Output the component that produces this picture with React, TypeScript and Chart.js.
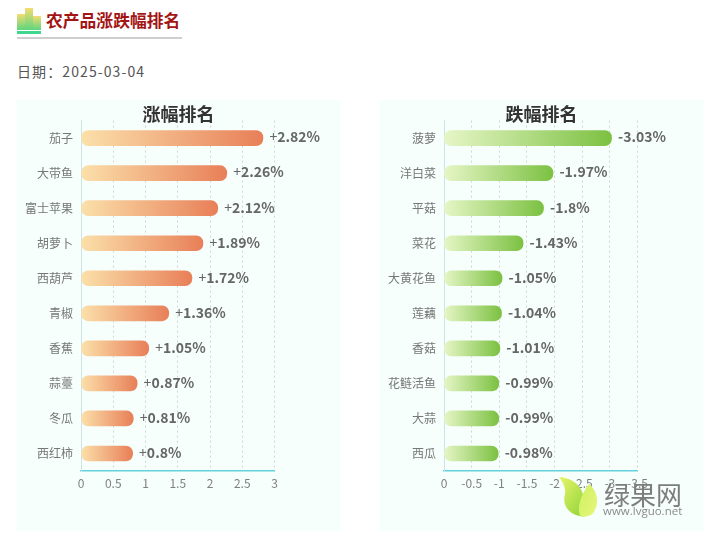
import React, { useEffect, useRef } from "react";
import { Chart, registerables } from "chart.js";

Chart.register(...registerables);

const FONT = '"Noto Sans CJK SC", "Noto Sans", sans-serif';

const riseCategories = ["茄子", "大带鱼", "富士苹果", "胡萝卜", "西葫芦", "青椒", "香蕉", "蒜薹", "冬瓜", "西红柿"];
const riseValues = [2.82, 2.26, 2.12, 1.89, 1.72, 1.36, 1.05, 0.87, 0.81, 0.8];
const riseTicks = [0, 0.5, 1, 1.5, 2, 2.5, 3];

const fallCategories = ["菠萝", "洋白菜", "平菇", "菜花", "大黄花鱼", "莲藕", "香菇", "花鲢活鱼", "大蒜", "西瓜"];
const fallValues = [-3.03, -1.97, -1.8, -1.43, -1.05, -1.04, -1.01, -0.99, -0.99, -0.98];
const fallTicks = [0, -0.5, -1, -1.5, -2, -2.5, -3, -3.5];

type PanelProps = {
  title: string;
  categories: string[];
  values: number[];
  ticks: number[];
  colors: [string, string];
  left: number;
  sign: string;
};

function RankChart({ title, categories, values, ticks, colors, left, sign }: PanelProps) {
  const ref = useRef<HTMLCanvasElement>(null);

  useEffect(() => {
    const negative = values[0] < 0;
    const labelPlugin = {
      id: "valueLabels",
      afterDatasetsDraw(chart: any) {
        const { ctx } = chart;
        const meta = chart.getDatasetMeta(0);
        ctx.save();
        ctx.textBaseline = "middle";
        ctx.textAlign = "left";
        ctx.fillStyle = "#666666";
        meta.data.forEach((bar: any, i: number) => {
          let x = bar.x + 6.5;
          if (sign) {
            ctx.font = `14px ${FONT}`;
            ctx.fillText(sign, x, bar.y - 1);
            x += ctx.measureText(sign).width;
          }
          ctx.font = `bold 14px ${FONT}`;
          ctx.fillText(`${values[i]}%`, x, bar.y - 1);
        });
        ctx.restore();
      },
    };

    const chart = new Chart(ref.current!, {
      type: "bar",
      data: {
        labels: categories,
        datasets: [
          {
            data: values,
            barThickness: 15,
            borderRadius: 7,
            borderSkipped: false,
            backgroundColor: (c: any) => {
              const x = c.chart.scales?.x;
              const v = c.parsed?.x ?? c.raw;
              const from = x?.getPixelForValue(0);
              const to = x?.getPixelForValue(v);
              if (!Number.isFinite(from) || !Number.isFinite(to)) return colors[1];
              const g = c.chart.ctx.createLinearGradient(from, 0, to, 0);
              g.addColorStop(0, colors[0]);
              g.addColorStop(1, colors[1]);
              return g;
            },
          },
        ],
      },
      options: {
        indexAxis: "y",
        animation: false,
        responsive: false,
        layout: { padding: 0 },
        plugins: {
          legend: { display: false },
          tooltip: { enabled: false },
          title: {
            display: true,
            text: title,
            color: "#333333",
            font: { size: 18, weight: "bold", family: FONT },
            padding: { top: 3, bottom: -4 },
          },
        },
        scales: {
          x: {
            type: "linear",
            min: negative ? ticks[ticks.length - 1] : ticks[0],
            max: negative ? ticks[0] : ticks[ticks.length - 1],
            reverse: negative,
            afterBuildTicks: (axis: any) => {
              axis.ticks = ticks.map((value) => ({ value }));
            },
            afterFit: (axis: any) => {
              axis.height = 60;
            },
            ticks: {
              color: "#808080",
              font: { size: 12, family: FONT },
              padding: 5,
              maxRotation: 0,
              callback: (v: any) => String(v),
            },
            border: { color: "#62d2dc", width: 1.5, dash: [2, 3] },
            grid: {
              color: "#d0d5d4",
              drawTicks: false,
            },
          },
          y: {
            afterFit: (axis: any) => {
              axis.width = 64;
            },
            ticks: {
              color: "#777777",
              font: { size: 12, family: FONT },
              padding: 0,
            },
            border: { color: "#cfe3e4", width: 1 },
            grid: { display: false },
          },
          rightGutter: {
            type: "category",
            position: "right",
            afterFit: (axis: any) => {
              axis.width = 65.5;
            },
            ticks: { display: false },
            border: { display: false },
            grid: { display: false },
          },
        },
      },
      plugins: [labelPlugin],
    } as any);

    return () => chart.destroy();
  }, []);

  return (
    <div
      style={{
        position: "absolute",
        left,
        top: 100,
        width: 323,
        height: 431,
        background: "#f6fffc",
        boxShadow: "0 0 4px 0 #f8fffd",
      }}
    >
      <canvas ref={ref} width={323} height={431} style={{ display: "block", width: 323, height: 431 }} />
    </div>
  );
}

function HeaderIcon() {
  const bars = [
    { left: 0, top: 6, width: 8, height: 16 },
    { left: 8, top: 0, width: 8, height: 22 },
    { left: 16, top: 8, width: 8, height: 14 },
  ];
  return (
    <div style={{ position: "absolute", left: 17, top: 8, width: 24, height: 26 }}>
      {bars.map((b, i) => (
        <div
          key={i}
          style={{
            position: "absolute",
            ...b,
            background: "linear-gradient(to bottom, #f3dd72, #5fd57e)",
          }}
        />
      ))}
      <div style={{ position: "absolute", left: 0, top: 23, width: 24, height: 3, background: "#3fd68e" }} />
    </div>
  );
}

function Watermark() {
  return (
    <div style={{ position: "absolute", left: 556, top: 476, width: 140, height: 50, zIndex: 5 }}>
      <svg width="48" height="44" style={{ position: "absolute", left: 0, top: 0 }}>
        <defs>
          <linearGradient id="leafA" x1="0" y1="0" x2="1" y2="1">
            <stop offset="0" stopColor="#e9f56a" />
            <stop offset="1" stopColor="#8fd43a" />
          </linearGradient>
          <linearGradient id="leafB" x1="0" y1="0" x2="1" y2="1">
            <stop offset="0" stopColor="#cdf060" />
            <stop offset="1" stopColor="#e6f77a" />
          </linearGradient>
        </defs>
        <path d="M3 1 C20 2 30 14 28 30 C27 36 26 40 24 40 C12 38 6 28 9 18 C10 12 7 6 3 1 Z" fill="url(#leafA)" />
        <path d="M33 8 C41 14 43 26 39 34 C37 39 32 41 25 41 C20 34 24 20 33 8 Z" fill="url(#leafB)" />
      </svg>
      <div
        style={{
          position: "absolute",
          left: 48,
          top: 3,
          fontFamily: FONT,
          fontSize: 26,
          lineHeight: "30px",
          color: "#7d7d7d",
          whiteSpace: "nowrap",
        }}
      >
        绿果网
      </div>
      <div
        style={{
          position: "absolute",
          left: 47,
          top: 27,
          fontFamily: '"Open Sans", sans-serif',
          fontSize: 11.5,
          lineHeight: "16px",
          color: "#8a8a8a",
          whiteSpace: "nowrap",
        }}
      >
        www.lvguo.net
      </div>
    </div>
  );
}

export default function App() {
  return (
    <div style={{ position: "absolute", left: 0, top: 0, width: 713, height: 539, background: "#ffffff", overflow: "hidden" }}>
      <HeaderIcon />
      <div
        style={{
          position: "absolute",
          left: 46,
          top: 8,
          fontFamily: FONT,
          fontWeight: 700,
          fontSize: 16.8,
          lineHeight: "24px",
          color: "#a31515",
          whiteSpace: "nowrap",
        }}
      >
        农产品涨跌幅排名
      </div>
      <div style={{ position: "absolute", left: 17, top: 37, width: 165, height: 2, background: "#cfcfcf" }} />
      <div
        style={{
          position: "absolute",
          left: 17,
          top: 60,
          fontFamily: FONT,
          fontSize: 14,
          letterSpacing: 1.1,
          lineHeight: "22px",
          color: "#555555",
          whiteSpace: "nowrap",
        }}
      >
        日期：2025-03-04
      </div>
      <RankChart
        title="涨幅排名"
        categories={riseCategories}
        values={riseValues}
        ticks={riseTicks}
        colors={["#fbe0aa", "#e87f58"]}
        left={17}
        sign="+"
      />
      <RankChart
        title="跌幅排名"
        categories={fallCategories}
        values={fallValues}
        ticks={fallTicks}
        colors={["#e6f6c6", "#7cc142"]}
        left={380}
        sign=""
      />
      <Watermark />
    </div>
  );
}
